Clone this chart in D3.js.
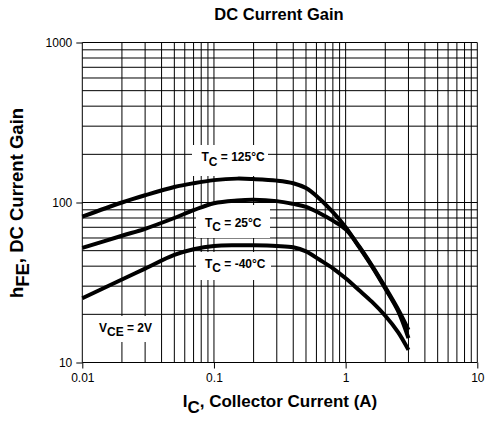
<!DOCTYPE html>
<html><head><meta charset="utf-8">
<script src="https://cdn.jsdelivr.net/npm/d3@7"></script>
<style>body{margin:0;background:#fff}svg{display:block;font-family:"Liberation Sans",Arial,Helvetica,sans-serif}</style>
</head><body><svg id="c" width="485" height="421"></svg>
<script>
// Collector current (A)
const current = [0.01,0.02,0.03,0.05,0.07,0.1,0.15,0.2,0.3,0.4,0.5,0.63,0.8,1.0,1.26,1.58,2.0,2.5,3.0];
// DC current gain hFE for each case temperature
const gain125 = [81.5,100,111,125,132,138,141,140,137,132,123,106,87,70,53,40,29,21,14.2];
const gain25  = [52,62,68.5,80,89.5,99,103,104,102,98,94,86,77,68,53.5,40.5,29.5,21.5,16];
const gainM40 = [25.2,33,38.6,47,51,53.5,54,54,53.5,52.5,49.5,44,38.8,33.6,28.4,24,19.6,15.5,12];
const xTickLabels = [0.01,0.1,1,10];
const yTickLabels = [10,100,1000];

const svg = d3.select("#c");
const x = d3.scaleLog().domain([0.01,10]).range([82.3,477.3]);
const y = d3.scaleLog().domain([10,1000]).range([362.5,42.5]);

// grid
const xGrid = [], yGrid = [];
[0.01,0.1,1].forEach(d=>{for(let k=1;k<=9;k++) xGrid.push(d*k);}); xGrid.push(10);
[10,100].forEach(d=>{for(let k=1;k<=9;k++) yGrid.push(d*k);}); yGrid.push(1000);
const g = svg.append("g").attr("stroke","#000").attr("stroke-width",1);
g.selectAll(".vx").data(xGrid).join("line")
  .attr("x1",d=>x(d)).attr("x2",d=>x(d)).attr("y1",y(1000)).attr("y2",y(10));
g.selectAll(".hy").data(yGrid).join("line")
  .attr("y1",d=>y(d)).attr("y2",d=>y(d)).attr("x1",x(0.01)).attr("x2",x(10));

// axis ticks
const yAxis = d3.axisLeft(y).tickValues(yTickLabels).tickFormat(d3.format("d")).tickSize(6).tickPadding(4);
const xAxis = d3.axisBottom(x).tickValues(xTickLabels).tickFormat(d=>String(d)).tickSize(6).tickPadding(5);
const ya = svg.append("g").attr("transform",`translate(${x(0.01)},0)`).call(yAxis);
const xa = svg.append("g").attr("transform",`translate(0,${y(10)})`).call(xAxis);
[ya,xa].forEach(a=>{a.select(".domain").remove();
  a.selectAll("line").attr("stroke","#000");
  a.selectAll("text").attr("fill","#000").attr("font-size",12).attr("font-family","Liberation Sans, Arial, sans-serif");});

// label backgrounds
const boxes = [[192,145,76,31],[196,205,74,33],[196,252,75,28],[88,316,66,26]];
svg.selectAll(".bx").data(boxes).join("rect")
  .attr("x",d=>d[0]).attr("y",d=>d[1]).attr("width",d=>d[2]).attr("height",d=>d[3]).attr("fill","#fff");

// curves
const line = d3.line().x(d=>x(d[0])).y(d=>y(d[1])).curve(d3.curveCatmullRom.alpha(0.5));
[gain125,gain25,gainM40].forEach(s=>{
  svg.append("path").datum(current.map((c,i)=>[c,s[i]])).attr("d",line)
    .attr("fill","none").attr("stroke","#000").attr("stroke-width",4).attr("stroke-linejoin","round");
});

// annotations
function sub(xp,yp,main,sb,rest,size,off){
  const t = svg.append("text").attr("x",xp).attr("y",yp).attr("font-weight","bold").attr("font-size",size).attr("fill","#000");
  t.append("tspan").text(main);
  t.append("tspan").attr("dy",off).text(sb);
  t.append("tspan").attr("dy",-off).text(rest);
  return t;
}
sub(201.5,161,"T","C"," = 125°C",12,4.5);
sub(205,226.5,"T","C"," = 25°C",12,4.5);
sub(205,267.5,"T","C"," = -40°C",12,4.5);
sub(99,331.5,"V","CE"," = 2V",12,4.5);

// titles
svg.append("text").attr("x",279).attr("y",20).attr("text-anchor","middle")
  .attr("font-weight","bold").attr("font-size",16.5).text("DC Current Gain");
sub(280,407,"I","C",", Collector Current (A)",17,5.5).attr("text-anchor","middle");
sub(0,0,"h","FE",", DC Current Gain",18.5,5.5).attr("text-anchor","middle")
  .attr("transform","translate(23,203) rotate(-90)");
</script></body></html>
